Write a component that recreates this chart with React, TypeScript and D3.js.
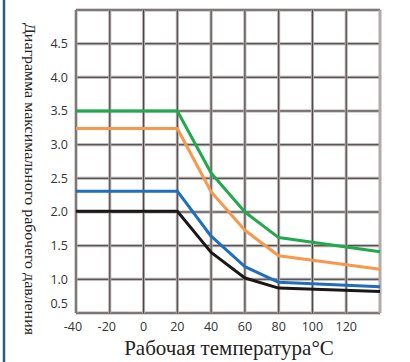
import React from "react";
import * as d3 from "d3";

const temps = [-40, 20, 40, 60, 80, 140];
const seriesGreen = [3.5, 3.5, 2.58, 2.0, 1.62, 1.41];
const seriesOrange = [3.24, 3.24, 2.3, 1.73, 1.35, 1.15];
const seriesBlue = [2.31, 2.31, 1.64, 1.19, 0.955, 0.89];
const seriesBlack = [2.01, 2.01, 1.4, 1.02, 0.87, 0.82];
const xTicks = [-40, -20, 0, 20, 40, 60, 80, 100, 120];
const xGrid = [-40, -20, 0, 20, 40, 60, 80, 100, 120, 140];
const yTicks = [0.5, 1.0, 1.5, 2.0, 2.5, 3.0, 3.5, 4.0, 4.5];
const yGrid = [0.5, 1.0, 1.5, 2.0, 2.5, 3.0, 3.5, 4.0, 4.5, 5.0];
const yTitle = "Диаграмма максимального рабочего давления";
const xTitle = "Рабочая температура°C";

const series = [
  { name: "black", values: seriesBlack, color: "#1c1616" },
  { name: "blue", values: seriesBlue, color: "#1e6fbd" },
  { name: "orange", values: seriesOrange, color: "#f7984a" },
  { name: "green", values: seriesGreen, color: "#22a94b" },
];

export default function App() {
  const W = 410, H = 362;
  const x = d3.scaleLinear().domain([-40, 140]).range([76, 380]);
  const y = d3.scaleLinear().domain([0.5, 5.0]).range([313, 10]);
  const line = d3
    .line<number>()
    .x((_, i) => x(temps[i]))
    .y((d) => y(d));
  const sans = "'Open Sans', 'Noto Sans', sans-serif";
  const serif = "'Liberation Serif', 'DejaVu Serif', serif";
  return (
    <svg
      width={W}
      height={H}
      style={{ position: "absolute", left: 0, top: 0, background: "#fff" }}
    >
      <rect x={0} y={0} width={W} height={H} fill="#fff" />
      <line x1={4} x2={4} y1={0} y2={H} stroke="#2d5b82" strokeWidth={2.5} />
      {yGrid.map((v) => (
        <g key={"h" + v}>
          <line x1={x(-40)} x2={x(140)} y1={y(v)} y2={y(v)} stroke="#b0aaaa" strokeWidth={3} />
          <line x1={x(-40)} x2={x(140)} y1={y(v)} y2={y(v)} stroke="#4a4444" strokeWidth={1} />
        </g>
      ))}
      {xGrid.map((v) => (
        <g key={"v" + v}>
          <line x1={x(v)} x2={x(v)} y1={y(5.0)} y2={y(0.5)} stroke="#b0aaaa" strokeWidth={3} />
          {v !== 140 && (
            <line x1={x(v)} x2={x(v)} y1={y(5.0)} y2={y(0.5)} stroke="#4a4444" strokeWidth={1} />
          )}
        </g>
      ))}
      {series.map((s) => (
        <path
          key={s.name}
          d={line(s.values) || ""}
          fill="none"
          stroke={s.color}
          strokeWidth={3}
          strokeLinejoin="round"
        />
      ))}
      {yTicks.map((v) => (
        <text
          key={"yt" + v}
          x={68}
          y={Math.min(y(v), y(0.5) - 9)}
          dy="0.35em"
          textAnchor="end"
          fontFamily={sans}
          fontSize={12.5}
          fill="#333"
        >
          {v.toFixed(1)}
        </text>
      ))}
      {xTicks.map((v) => (
        <text
          key={"xt" + v}
          x={x(v) - (v < 0 ? 3 : 0)}
          y={331}
          textAnchor="middle"
          fontFamily={sans}
          fontSize={12.5}
          fill="#333"
        >
          {v}
        </text>
      ))}
      <text
        transform={`translate(30, 179) rotate(90)`}
        textAnchor="middle"
        dy="0.35em"
        fontFamily={serif}
        fontSize={15}
        fill="#222"
        textLength={312}
        lengthAdjust="spacingAndGlyphs"
      >
        {yTitle}
      </text>
      <text
        x={229}
        y={355}
        textAnchor="middle"
        fontFamily={serif}
        fontSize={21}
        fill="#222"
      >
        {xTitle}
      </text>
    </svg>
  );
}
